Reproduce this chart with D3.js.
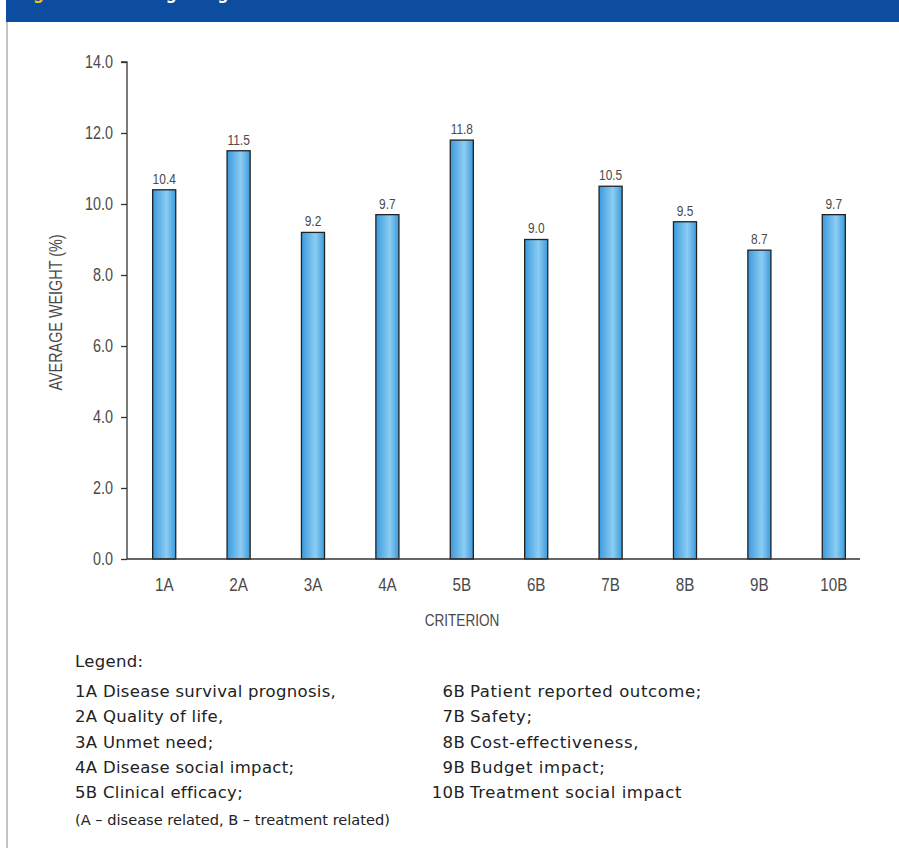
<!DOCTYPE html>
<html>
<head>
<meta charset="utf-8">
<script src="https://cdn.jsdelivr.net/npm/d3@7/dist/d3.min.js"></script>
<style>
  html, body { margin: 0; padding: 0; background: #fff; }
  svg { display: block; }
  .cond { transform-box: fill-box; transform-origin: 50% 50%; transform: scaleX(0.8); }
  .condN { transform-box: fill-box; transform-origin: 50% 50%; transform: scaleX(0.77); }
  .condR { transform-box: fill-box; transform-origin: 100% 50%; transform: scaleX(0.8); }
</style>
</head>
<body>
<svg id="chart" width="899" height="848"></svg>
<script>
// ---- Data ----
const categories = ["1A", "2A", "3A", "4A", "5B", "6B", "7B", "8B", "9B", "10B"];
const values = [10.4, 11.5, 9.2, 9.7, 11.8, 9.0, 10.5, 9.5, 8.7, 9.7];
const yTicks = [0, 2, 4, 6, 8, 10, 12, 14];
const legendLeft = [
  ["1A", "Disease survival prognosis,"],
  ["2A", "Quality of life,"],
  ["3A", "Unmet need;"],
  ["4A", "Disease social impact;"],
  ["5B", "Clinical efficacy;"]
];
const legendRight = [
  ["6B", "Patient reported outcome;"],
  ["7B", "Safety;"],
  ["8B", "Cost-effectiveness,"],
  ["9B", "Budget impact;"],
  ["10B", "Treatment social impact"]
];
const footnote = "(A \u2013 disease related, B \u2013 treatment related)";
const yLabel = "AVERAGE WEIGHT (%)";
const xLabel = "CRITERION";

// ---- Layout ----
const svg = d3.select("#chart");
const axisFont = "'Liberation Sans', Arial, sans-serif";
const body = "'DejaVu Sans', 'Noto Sans', sans-serif";
const axisColor = "#333";
const textColor = "#4a4a4a";

// header band
svg.append("rect").attr("x", 6).attr("y", 0).attr("width", 893).attr("height", 22).attr("fill", "#0d4d9f");
const title = svg.append("text").attr("x", 20).attr("y", -1)
  .attr("font-family", "'Noto Sans', sans-serif").attr("font-weight", "bold").attr("font-size", 16);
title.append("tspan").attr("fill", "#f6c400").text("Figure 2 ");
title.append("tspan").attr("fill", "#fff").attr("x", 120).text("Average weights");

// left border
svg.append("line").attr("x1", 7).attr("x2", 7).attr("y1", 22).attr("y2", 848)
  .attr("stroke", "#b0b0b0").attr("stroke-width", 1.5);

// gradient
const defs = svg.append("defs");
const grad = defs.append("linearGradient").attr("id", "barGrad")
  .attr("x1", "0%").attr("x2", "100%").attr("y1", "0%").attr("y2", "0%");
grad.append("stop").attr("offset", "0%").attr("stop-color", "#3b9ade");
grad.append("stop").attr("offset", "60%").attr("stop-color", "#8ccdf2");
grad.append("stop").attr("offset", "100%").attr("stop-color", "#3b9ade");

const x0 = 127, x1 = 871, yBottom = 559, yTop = 62;
const x = d3.scaleBand().domain(categories).range([x0, x1]).paddingInner(0.69).paddingOuter(0.345);
const y = d3.scaleLinear().domain([0, 14]).range([yBottom, yTop]);

// y axis
const yAxis = d3.axisLeft(y).tickValues(yTicks).tickFormat(d3.format(".1f")).tickSize(6).tickPadding(8);
const gy = svg.append("g").attr("transform", `translate(${x0},0)`).call(yAxis);
gy.select(".domain").attr("stroke", axisColor).attr("stroke-width", 1.3).attr("d", `M-6,${yTop}H0V${yBottom}`);
gy.selectAll(".tick line").attr("stroke", axisColor).attr("stroke-width", 1.3);
gy.selectAll(".tick text").attr("class", "condR")
  .attr("font-family", axisFont).attr("font-size", 18).attr("fill", textColor);

// bars
svg.append("g").selectAll("rect").data(values).join("rect")
  .attr("x", (d, i) => x(categories[i]))
  .attr("y", d => y(d))
  .attr("width", x.bandwidth())
  .attr("height", d => y(0) - y(d))
  .attr("fill", "url(#barGrad)")
  .attr("stroke", "#222")
  .attr("stroke-width", 1.3);

// value labels
svg.append("g").selectAll("text").data(values).join("text")
  .attr("class", "condN")
  .attr("x", (d, i) => x(categories[i]) + x.bandwidth() / 2)
  .attr("y", d => y(d) - 6)
  .attr("text-anchor", "middle")
  .attr("font-family", axisFont).attr("font-size", 15.5).attr("fill", textColor)
  .text(d => d3.format(".1f")(d));

// x axis
const xAxis = d3.axisBottom(x).tickSize(0).tickPadding(19);
const gx = svg.append("g").attr("transform", `translate(0,${yBottom})`).call(xAxis);
gx.select(".domain").attr("stroke", axisColor).attr("stroke-width", 1.3).attr("d", `M${x0},0H860`);
gx.selectAll(".tick text").attr("class", "cond")
  .attr("font-family", axisFont).attr("font-size", 19).attr("fill", textColor);

// axis titles
svg.append("text").attr("class", "cond").attr("x", 462).attr("y", 626).attr("text-anchor", "middle")
  .attr("font-family", axisFont).attr("font-size", 17).attr("fill", textColor).text(xLabel);
svg.append("g").attr("transform", `translate(62,${(yTop + yBottom) / 2 + 2}) rotate(-90)`)
  .append("text").attr("class", "cond")
  .attr("text-anchor", "middle")
  .attr("font-family", axisFont).attr("font-size", 18).attr("fill", textColor).text(yLabel);

// legend
const lg = svg.append("g").attr("font-family", body).attr("font-size", 16.5)
  .attr("letter-spacing", 0.3).attr("fill", "#222");
lg.append("text").attr("x", 75).attr("y", 667).text("Legend:");
const rowY = i => 697 + i * 25.3;
lg.selectAll("text.l").data(legendLeft).join("text").attr("class", "l")
  .attr("x", 75).attr("y", (d, i) => rowY(i)).text(d => d[0] + " " + d[1]);
lg.selectAll("text.rc").data(legendRight).join("text").attr("class", "rc")
  .attr("x", 465).attr("y", (d, i) => rowY(i)).attr("text-anchor", "end").text(d => d[0]);
lg.selectAll("text.rd").data(legendRight).join("text").attr("class", "rd")
  .attr("x", 470).attr("y", (d, i) => rowY(i)).attr("letter-spacing", 0.6).text(d => d[1]);
svg.append("text").attr("x", 75).attr("y", 825).attr("font-family", body).attr("font-size", 14.6)
  .attr("fill", "#222").text(footnote);
</script>
</body>
</html>
